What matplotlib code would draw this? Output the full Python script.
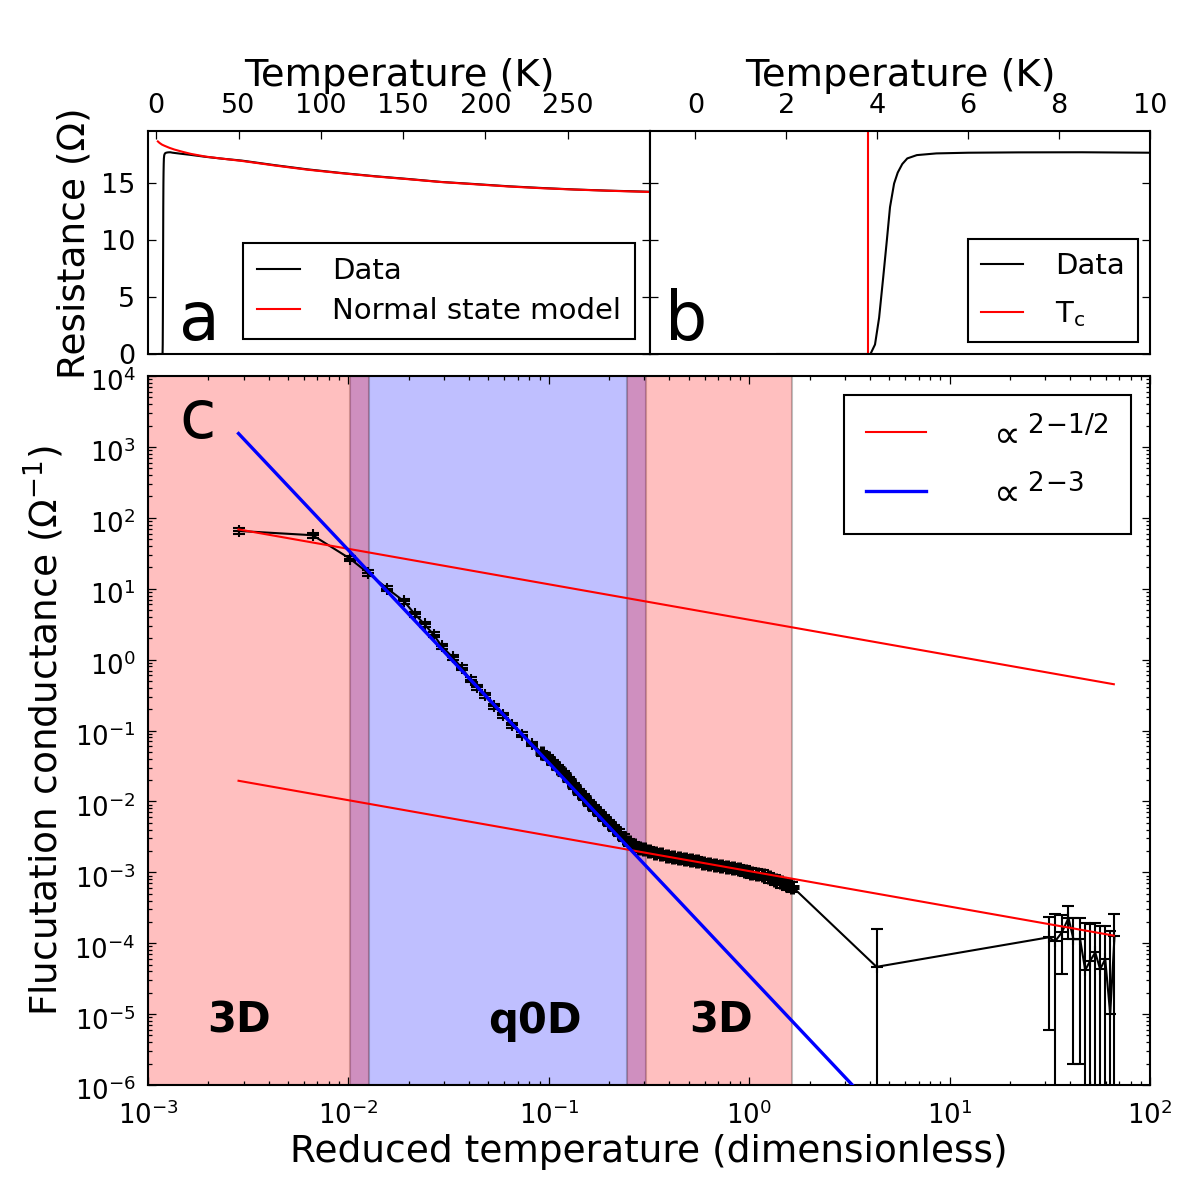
import numpy as np
import matplotlib
matplotlib.use('Agg')
import matplotlib.pyplot as plt
import matplotlib.transforms as mtransforms
from matplotlib.ticker import LogLocator, NullFormatter

# ---------------- data ----------------
# panel a / b : resistance vs temperature
T_data = [1.8, 3.0, 3.85, 3.95, 4.04, 4.13, 4.21, 4.28, 4.37, 4.45, 4.55, 4.66, 4.87,
          5.3, 6.0, 7.1, 8.5, 10.0, 15, 21, 30, 40, 52, 72, 92, 112, 133, 153,
          173, 193, 214, 234, 254, 274, 300]
R_data = [0, 0, 0, 0.83, 3.17, 6.70, 9.94, 12.87, 14.94, 15.90, 16.65, 17.14, 17.43,
          17.58, 17.64, 17.67, 17.68, 17.64, 17.55, 17.45, 17.28, 17.12, 16.95,
          16.55, 16.18, 15.87, 15.58, 15.34, 15.08, 14.90, 14.70, 14.55, 14.42,
          14.32, 14.22]
T_model = [1.0, 2.0, 3.5, 5, 8, 11, 16, 21, 30, 40, 52, 72, 92, 112, 133, 153,
           173, 193, 214, 234, 254, 274, 300]
R_model = [18.63, 18.50, 18.35, 18.25, 18.07, 17.92, 17.72, 17.54, 17.30, 17.12,
           16.92, 16.52, 16.15, 15.85, 15.56, 15.32, 15.07, 14.88, 14.68, 14.53,
           14.41, 14.31, 14.20]
Tc = 3.8

# panel c : fluctuation conductance vs reduced temperature
eps_main = [0.00283, 0.00663, 0.01017, 0.01252, 0.01567, 0.01895, 0.0215, 0.0240,
            0.0266, 0.0292, 0.0331, 0.0367, 0.0407, 0.0440, 0.0479, 0.0533, 0.0594,
            0.0658, 0.0739, 0.0829, 0.0930, 0.0989, 0.1047, 0.1116, 0.1189, 0.1259,
            0.1334, 0.1413, 0.1496, 0.1585, 0.1679, 0.1778, 0.1884, 0.1995, 0.2113,
            0.2239, 0.2371, 0.2512, 0.2661, 0.2818, 0.2985, 0.3162, 0.3388, 0.3631,
            0.3890, 0.4169, 0.4467, 0.4786, 0.5129, 0.5495, 0.5888, 0.6310, 0.6761,
            0.7244, 0.7762, 0.8318, 0.8913, 0.9550, 1.0233, 1.0965, 1.1749, 1.2589,
            1.3490, 1.4454, 1.5488, 1.6406]
G_main = [65.3, 56.8, 26.6, 16.7, 10.0, 6.64, 4.35, 3.14, 2.25, 1.55, 1.08, 0.769,
          0.520, 0.409, 0.312, 0.220, 0.163, 0.118, 0.0869, 0.0648, 0.0478, 0.0416,
          0.0353, 0.0300, 0.0247, 0.0203, 0.0167, 0.01375, 0.01169, 0.00962, 0.00818,
          0.00695, 0.00590, 0.00502, 0.00426, 0.00362, 0.00308, 0.00266, 0.00241,
          0.00223, 0.00212, 0.00202, 0.00189, 0.00180, 0.00172, 0.00163, 0.00158,
          0.00153, 0.00148, 0.00143, 0.00137, 0.00132, 0.00128, 0.00124, 0.00120,
          0.00116, 0.00111, 0.00105, 0.000987, 0.000955, 0.000925, 0.000853,
          0.000786, 0.000720, 0.000668, 0.000626]
G_main_err = [6.0, 5.0, 2.3, 1.4, 0.8, 0.5, 0.33, 0.24, 0.17, 0.12, 0.08, 0.06,
              0.04, 0.031, 0.024, 0.017, 0.013, 0.009, 0.007, 0.005, 0.004, 0.0035,
              0.003, 0.0026, 0.0022, 0.0018, 0.0015, 0.0013, 0.0011, 0.0009, 0.0008,
              0.0007, 0.0006, 0.0005, 0.00045, 0.0004, 0.00035, 0.0003, 0.00028,
              0.00027, 0.00026, 0.00025, 0.00024, 0.00023, 0.00022, 0.00021, 0.00021,
              0.0002, 0.0002, 0.0002, 0.00019, 0.00019, 0.00018, 0.00018, 0.00017,
              0.00017, 0.00016, 0.00016, 0.00015, 0.00015, 0.00015, 0.00014, 0.00013,
              0.00012, 0.00011, 0.0001]
eps_sparse = [4.32, 31.2, 33.6, 36.3, 39.2, 41.5, 44.8, 47.5, 50.3, 53.3, 56.4,
              59.8, 63.3, 66.5]
G_sparse = [4.64e-5, 1.21e-4, 1.06e-4, 1.42e-4, 2.26e-4, 1.14e-4, 1.14e-4, 4.17e-5,
            5.65e-5, 7.4e-5, 4.3e-5, 5.96e-5, 1.0e-5, 1.25e-4]
G_sparse_err = [1.14e-4, 1.15e-4, 1.52e-4, 1.05e-4, 1.13e-4, 1.12e-4, 1.12e-4,
                1.48e-4, 1.33e-4, 1.16e-4, 1.33e-4, 1.16e-4, 1.4e-4, 1.3e-4]

# power-law guides (prefactors)
A_3d_high = 3.65      # upper eps^-1/2 line
A_3d_low = 1.04e-3    # lower eps^-1/2 line
A_q0d = 3.5e-5        # eps^-3 line

# regions (reduced temperature)
reg_3d_a = (1e-3, 0.0126)
reg_q0d = (0.0102, 0.305)
reg_3d_b = (0.245, 1.64)
region_labels = ['3D', 'q0D', '3D']
region_label_x = [0.00285, 0.0851, 0.724]
region_label_y = 8e-6

# ---------------- style ----------------
plt.rcParams.update({
    'font.family': ['DejaVu Sans'],
    'xtick.direction': 'in', 'ytick.direction': 'in',
    'xtick.major.size': 4, 'xtick.minor.size': 2,
    'ytick.major.size': 4, 'ytick.minor.size': 2,
    'xtick.major.width': 0.6, 'ytick.major.width': 0.6,
    'xtick.minor.width': 0.6, 'ytick.minor.width': 0.6,
    'xtick.major.pad': 6, 'ytick.major.pad': 6,
    'axes.linewidth': 1.0,
    'xtick.labelsize': 13, 'ytick.labelsize': 13,
    'axes.labelsize': 18,
    'legend.fancybox': False, 'legend.edgecolor': 'k', 'legend.framealpha': 1,
    'mathtext.default': 'regular',
})

fig = plt.figure(figsize=(8, 8), dpi=150)
axa = fig.add_axes([0.12333, 0.705, 0.41833, 0.18542])
axb = fig.add_axes([0.54167, 0.705, 0.41667, 0.18542], sharey=axa)
axc = fig.add_axes([0.12333, 0.09583, 0.835, 0.59083])

# ---- panel a ----
axa.plot(T_data, R_data, color='k', lw=1.0, label='Data')
axa.plot(T_model, R_model, color='r', lw=1.0, label='Normal state model')
axa.set_xlim(-5, 300)
axa.set_ylim(0, 19.5)
axa.set_xticks([0, 50, 100, 150, 200, 250])
axa.set_yticks([0, 5, 10, 15])
axa.xaxis.set_label_position('top')
axa.tick_params(axis='x', top=True, bottom=False, labeltop=True, labelbottom=False)
axa.tick_params(axis='y', left=True, right=True)
axa.set_xlabel('Temperature (K)', labelpad=3.5, fontsize=18.4)
axa.set_ylabel('Resistance (Ω)')
axa.legend(loc='lower right', fontsize=14, handlelength=1.45, handletextpad=1.1,
           borderpad=0.5, labelspacing=0.4, borderaxespad=0.5)
axa.text(0.102, 0.063, 'a', transform=axa.transAxes, fontsize=32,
         ha='center', va='baseline')

# ---- panel b ----
axb.plot(T_data, R_data, color='k', lw=1.0, label='Data')
axb.axvline(Tc, color='r', lw=1.0, label=r'$\mathrm{T_c}$')
axb.set_xlim(-1, 10)
axb.set_xticks([0, 2, 4, 6, 8, 10])
axb.xaxis.set_label_position('top')
axb.tick_params(axis='x', top=True, bottom=False, labeltop=True, labelbottom=False)
axb.tick_params(axis='y', left=True, right=True, labelleft=False)
axb.set_xlabel('Temperature (K)', labelpad=3.5, fontsize=18.4)
axb.legend(loc='lower right', fontsize=14, handlelength=1.45, handletextpad=1.1,
           borderpad=0.45, labelspacing=0.65, borderaxespad=0.4)
axb.text(0.072, 0.063, 'b', transform=axb.transAxes, fontsize=32,
         ha='center', va='baseline')

# ---- panel c ----
axc.set_xscale('log')
axc.set_yscale('log')
axc.axvspan(*reg_q0d, facecolor='b', edgecolor='k', alpha=0.25, lw=1, zorder=0)
axc.axvspan(*reg_3d_a, facecolor='r', edgecolor='k', alpha=0.25, lw=1, zorder=0)
axc.axvspan(*reg_3d_b, facecolor='r', edgecolor='k', alpha=0.25, lw=1, zorder=0)

eps_all = np.array(eps_main + eps_sparse)
G_all = np.array(G_main + G_sparse)
err_all = np.array(G_main_err + G_sparse_err)
axc.errorbar(eps_all, G_all, yerr=err_all, color='k', lw=1.0, marker='+',
             ms=6, mew=1.0, capsize=3, elinewidth=1.0, zorder=3)
# densely packed measurements overlap into a solid band
dense = (eps_all > 0.09) & (eps_all < 1.7)
axc.plot(eps_all[dense], G_all[dense], ls='none', marker='+', ms=7, mew=2.4,
         color='k', zorder=3)

eps_line = np.array([eps_all.min(), 66.0])
axc.plot(eps_line, A_3d_high * eps_line ** -0.5, color='r', lw=1.0,
         label=r'$\propto{}^{2}{}^{-1/2}$', zorder=4)
axc.plot(eps_line, A_3d_low * eps_line ** -0.5, color='r', lw=1.0, zorder=4)
axc.plot(eps_line, A_q0d * eps_line ** -3.0, color='b', lw=1.6,
         label=r'$\propto{}^{2}{}^{-3}$', zorder=4)

axc.set_xlim(1e-3, 1e2)
axc.set_ylim(1e-6, 1e4)
for axis in (axc.xaxis, axc.yaxis):
    axis.set_major_locator(LogLocator(base=10, numticks=20))
    axis.set_minor_locator(LogLocator(base=10, subs=np.arange(2, 10), numticks=20))
    axis.set_minor_formatter(NullFormatter())
axc.tick_params(which='both', top=True, right=True, labelsize=12.5)
axc.tick_params(axis='x', which='major', pad=8)
axc.set_xlabel('Reduced temperature (dimensionless)', labelpad=2)
axc.set_ylabel(r'Flucutation conductance ($\Omega^{-1}$)')
axc.legend(loc='upper right', fontsize=18, handlelength=1.6, handletextpad=1.6,
           borderpad=0.6, labelspacing=0.6, borderaxespad=0.5)
axc.text(0.05, 0.9126, 'c', transform=axc.transAxes, fontsize=32,
         ha='center', va='baseline')
for lab, xx in zip(region_labels, region_label_x):
    axc.text(xx, region_label_y, lab, fontsize=20, fontweight='bold',
             ha='center', va='center', zorder=5)

# log tick labels sit slightly below their ticks, as in the reference
fig.canvas.draw()
shift = mtransforms.ScaledTranslation(0, -2.0 / 72, fig.dpi_scale_trans)
for t in axc.yaxis.get_majorticklabels():
    t.set_transform(t.get_transform() + shift)

fig.savefig('out.png', dpi=150)
